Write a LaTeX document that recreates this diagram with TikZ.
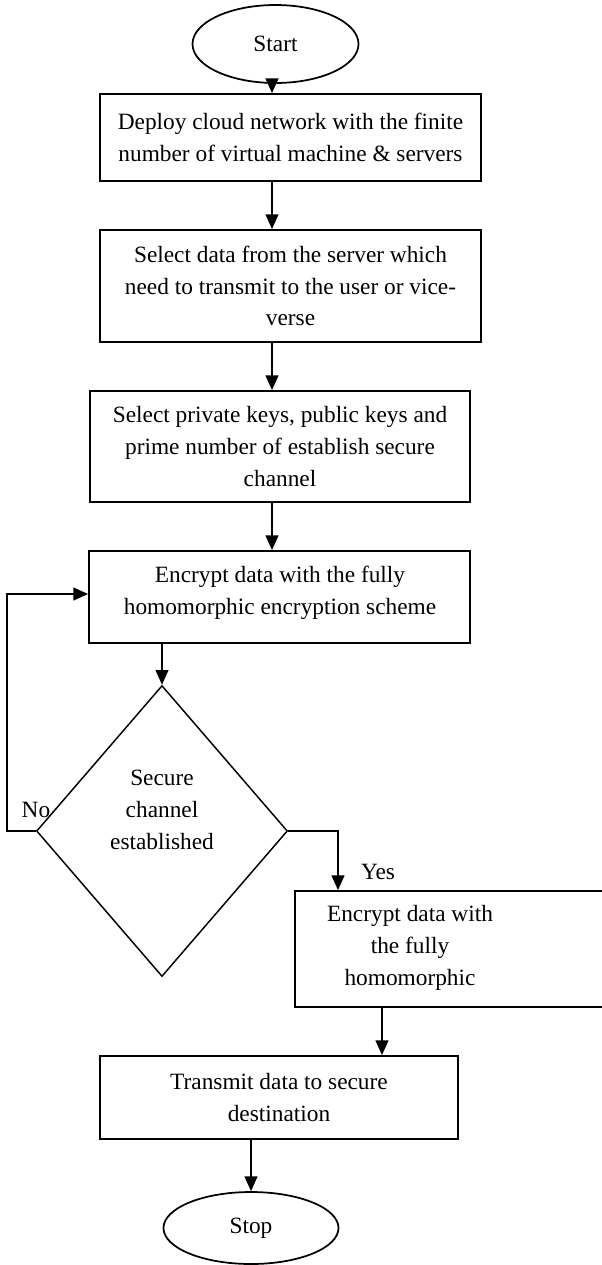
\documentclass[tikz,border=0pt]{standalone}
\usepackage{fontspec}
\setmainfont{Liberation Serif}
\usetikzlibrary{shapes.geometric,arrows.meta}
\def\pxu{0.75pt}
\begin{document}
\begin{tikzpicture}[x=0.75pt,y=-0.75pt,
  every node/.style={font=\fontsize{17.5pt}{23.8pt}\selectfont},
  procbox/.style={draw,line width=1.3pt,rectangle,inner sep=0pt,align=center},
  terminal/.style={draw,line width=1.3pt,ellipse,inner sep=0pt},
  decision/.style={draw,line width=1.1pt,diamond,inner sep=0pt},
  txt/.style={align=center,inner sep=0pt},
  flow/.style={line width=1.4pt,-{Triangle[length=11pt,width=9.5pt]}}]
\useasboundingbox (0,0) rectangle (601,1265);

% terminals
\node[terminal,minimum width=166*\pxu,minimum height=78*\pxu] (start) at (275.5,44) {Start};
\node[terminal,minimum width=175*\pxu,minimum height=72*\pxu] (stop) at (251,1228) {Stop};

% process boxes
\node[procbox,minimum width=381*\pxu,minimum height=87*\pxu] (box1) at (290.5,137.5)
  {Deploy cloud network with the finite\\number of virtual machine \& servers};
\node[procbox,minimum width=381*\pxu,minimum height=112*\pxu] (box2) at (290.5,286)
  {Select data from the server which\\need to transmit to the user or vice-\\verse};
\node[procbox,minimum width=380*\pxu,minimum height=111*\pxu] (box3) at (280,446.5)
  {Select private keys, public keys and\\prime number of establish secure\\channel};
\node[procbox,minimum width=381*\pxu,minimum height=92*\pxu] (box4) at (279.5,597) {};
\node[txt] (box4txt) at (280,593) {Encrypt data with the fully\\homomorphic encryption scheme};
\node[procbox,minimum width=310*\pxu,minimum height=116*\pxu] (box5) at (450,949) {};
\node[txt] (box5txt) at (410,948) {Encrypt data with\\the fully\\homomorphic};
\node[procbox,minimum width=358*\pxu,minimum height=83*\pxu] (box6) at (279,1097.5)
  {Transmit data to secure\\destination};

% decision
\node[decision,minimum width=251*\pxu,minimum height=291*\pxu] (dec) at (162,831) {};
\node[txt] (dectxt) at (162,810) {Secure\\channel\\established};

% connector guide columns
\coordinate (c1) at (272,0);
\coordinate (loopx) at (7,0);
\coordinate (yesx) at (338,0);
\coordinate (c5) at (382,0);

% main flow
\draw[flow] (start.south -| c1) -- (box1.north -| c1);
\draw[flow] (box1.south -| c1) -- (box2.north -| c1);
\draw[flow] (box2.south -| c1) -- (box3.north -| c1);
\draw[flow] (box3.south -| c1) -- (box4.north -| c1);
\draw[flow] (box4.south -| dec.north) -- (dec.north);

% branches
\draw[flow] (dec.west) -- (dec.west -| loopx) |- ([yshift=3*\pxu]box4.west);
\draw[flow] (dec.east) -| (box5.north -| yesx);
\node[txt] (nolbl) at (36,810) {No};
\node[txt] (yeslbl) at (378,872) {Yes};

\draw[flow] (box5.south -| c5) -- (box6.north -| c5);
\draw[flow] (box6.south -| stop.north) -- (stop.north);
\end{tikzpicture}
\end{document}
